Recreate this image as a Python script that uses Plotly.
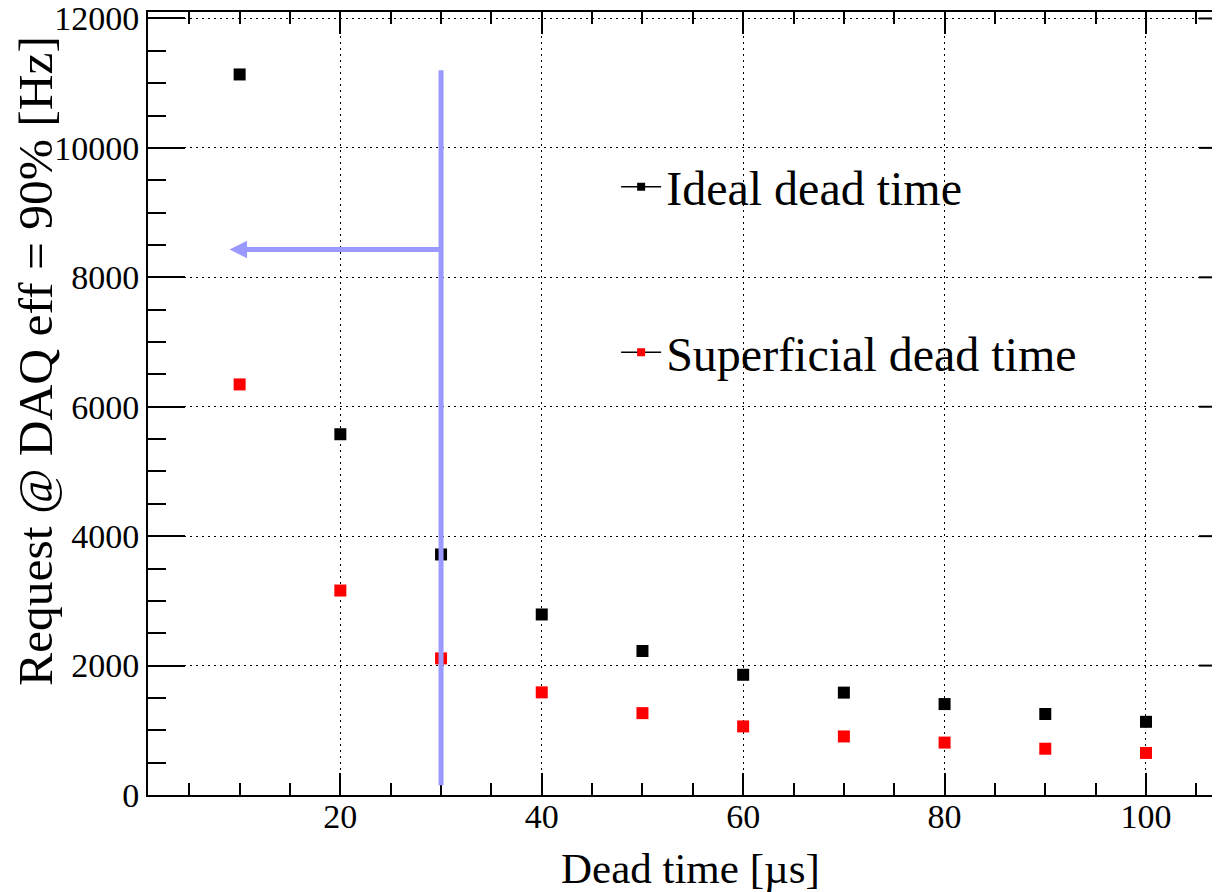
import plotly.graph_objects as go

# values
dead_time = [10, 20, 30, 40, 50, 60, 70, 80, 90, 100]
ideal_rate = [11135, 5575, 3717, 2790, 2225, 1858, 1582, 1405, 1252, 1131]
superficial_rate = [6345, 3160, 2111, 1586, 1265, 1060, 905, 810, 715, 650]

y_major = [2000, 4000, 6000, 8000, 10000, 12000]

FONT = "Liberation Serif, Times New Roman, serif"
BLUE = "#9999ff"

fig = go.Figure()

fig.add_trace(go.Scatter(
    x=dead_time, y=ideal_rate, mode="markers",
    marker=dict(symbol="square", size=12, color="black"),
    showlegend=False,
))
fig.add_trace(go.Scatter(
    x=dead_time, y=superficial_rate, mode="markers",
    marker=dict(symbol="square", size=12, color="red"),
    showlegend=False,
))

# legend entries, drawn ROOT "lp" style
fig.add_trace(go.Scatter(
    x=[None], y=[None], mode="lines+markers", name="Ideal dead time",
    line=dict(color="black", width=1.5),
    marker=dict(symbol="square", size=8, color="black"),
    legendgroup="ideal",
))
fig.add_trace(go.Scatter(
    x=[None], y=[None], mode="lines+markers", name="Superficial dead time",
    line=dict(color="black", width=1.5),
    marker=dict(symbol="square", size=8, color="red"),
    legendgroup="superficial",
))

# blue guide: vertical line at 30 us and arrow to the rate axis
fig.add_shape(type="line", x0=30, x1=30, y0=150, y1=11200,
              line=dict(color=BLUE, width=5))
fig.add_annotation(x=9, y=8430, ax=30, ay=8430, axref="x", ayref="y",
                   text="", showarrow=True, arrowhead=2, arrowsize=0.7,
                   arrowwidth=5, arrowcolor=BLUE)

# right-hand frame ticks (frame itself is cut off at the image edge)
for v in y_major:
    fig.add_shape(type="line", xref="paper", x0=1 - 21 / 1072, x1=1, y0=v, y1=v,
                  line=dict(color="black", width=2))

fig.add_annotation(text="Dead time [µs]", xref="paper", yref="paper",
                   x=0.5056, y=-0.0945, xanchor="center", yanchor="middle",
                   showarrow=False,
                   font=dict(family=FONT, size=43, color="black"))
fig.add_annotation(text="Request @ DAQ eff = 90% [Hz]", xref="paper", yref="paper",
                   x=-0.1045, y=0.5543, xanchor="center", yanchor="middle",
                   textangle=-90, showarrow=False,
                   font=dict(family=FONT, size=49.5, color="black"))

fig.update_xaxes(
    range=[0.9, 107.35], tick0=0, dtick=20, automargin=False,
    ticks="inside", ticklen=22, tickwidth=2, tickcolor="black",
    minor=dict(dtick=5, ticks="inside", ticklen=12, tickwidth=2, tickcolor="black"),
    showline=True, linecolor="black", linewidth=2, mirror="ticks",
    showgrid=True, gridcolor="black", gridwidth=1, griddash="2px,4px",
    zeroline=False, tickformat="d", ticklabelstandoff=-10,
    tickfont=dict(family=FONT, size=34, color="black"),
)
fig.update_yaxes(
    range=[0, 12100], tick0=0, dtick=2000, automargin=False,
    ticks="inside", ticklen=37, tickwidth=2, tickcolor="black",
    minor=dict(dtick=500, ticks="inside", ticklen=18, tickwidth=2, tickcolor="black"),
    showline=True, linecolor="black", linewidth=2,
    showgrid=True, gridcolor="black", gridwidth=1, griddash="2px,4px",
    zeroline=False, tickformat="d", ticklabeloverflow="allow",
    tickfont=dict(family=FONT, size=34, color="black"),
)

# the page body adds an 8px margin, so the figure is 8px smaller than the window
fig.update_layout(
    width=1212, height=884,
    margin=dict(l=140, r=0, t=4, b=97),
    plot_bgcolor="white", paper_bgcolor="white",
    font=dict(family=FONT, color="black"),
    legend=dict(
        x=0.4367, y=0.825, xanchor="left", yanchor="top",
        bgcolor="rgba(0,0,0,0)", tracegroupgap=100, itemwidth=40,
        font=dict(family=FONT, size=48, color="black"),
    ),
)

fig.write_html("out.html")
